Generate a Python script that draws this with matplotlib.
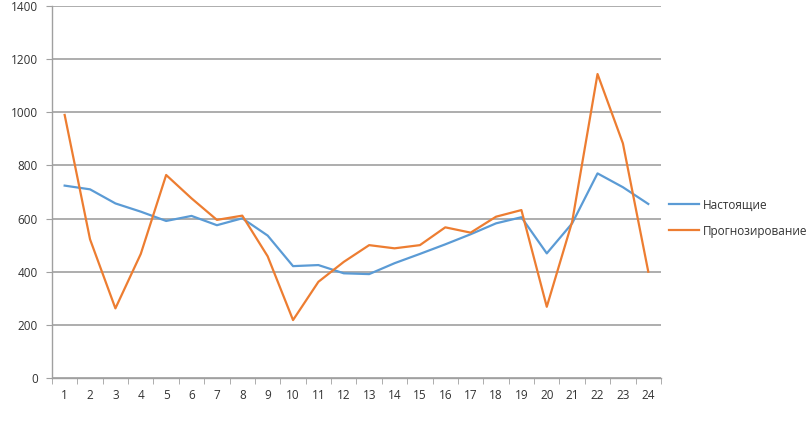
import numpy as np
import matplotlib.pyplot as plt
import matplotlib as mpl

mpl.rcParams['font.family'] = ['Open Sans', 'DejaVu Sans']

months = list(range(1, 25))
actual = [724, 710, 657, 626, 591, 610, 575, 601, 536, 421, 425, 394,
          391, 432, 467, 503, 541, 582, 605, 469, 582, 770, 718, 655]
forecast = [990, 522, 262, 467, 764, 676, 595, 611, 458, 218, 362, 437,
            500, 488, 500, 567, 547, 607, 632, 268, 588, 1144, 883, 400]
labels = ['Настоящие', 'Прогнозирование']

fig = plt.figure(figsize=(8.12, 4.25), dpi=100)
ax = fig.add_axes([0.064, 0.1106, 0.75, 0.8753])

x = np.arange(len(months))
ax.plot(x, actual, color='#5B9BD5', lw=1.6, label=labels[0])
ax.plot(x, forecast, color='#ED7D31', lw=1.6, label=labels[1])

ax.set_xlim(-0.5, len(months) - 0.5)
ax.set_ylim(0, 1400)
ax.set_yticks(range(0, 1401, 200))
ax.set_xticks(x)
ax.set_xticklabels([str(m) for m in months])
ax.set_xticks(np.arange(-0.5, len(months), 1), minor=True)

ax.grid(axis='y', color='#a0a0a0', lw=1.2)
ax.set_axisbelow(True)
for s in ['top', 'right']:
    ax.spines[s].set_visible(False)
for s in ['left', 'bottom']:
    ax.spines[s].set_color('#a0a0a0')
    ax.spines[s].set_linewidth(1.0)

ax.tick_params(axis='x', which='major', length=0, pad=8, labelsize=8.5)
ax.tick_params(axis='x', which='minor', length=4, color='#a0a0a0')
ax.tick_params(axis='y', length=4, color='#a0a0a0', labelsize=8.5, pad=6)
for t in ax.get_yticklabels() + ax.get_xticklabels():
    t.set_color('#333333')

leg = ax.legend(loc='center left', bbox_to_anchor=(0.995, 0.43), frameon=False,
                fontsize=8.5, handlelength=2.6, handletextpad=0.3, labelspacing=1.1)
for t in leg.get_texts():
    t.set_color('#333333')

fig.savefig('out.png', dpi=100)
